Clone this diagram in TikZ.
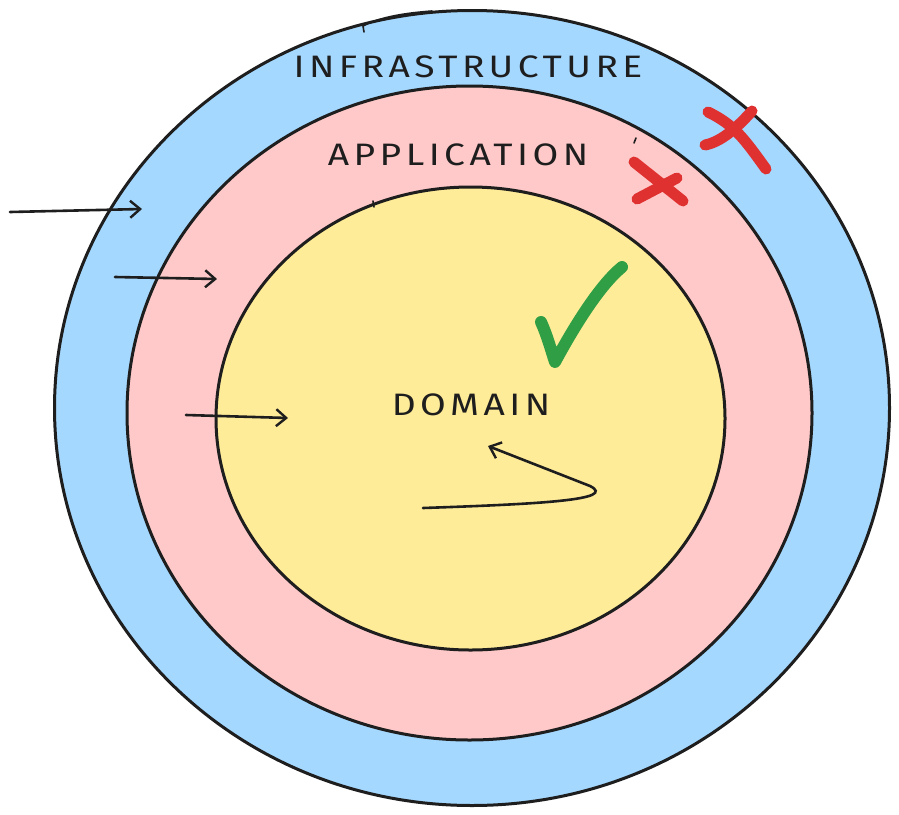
\documentclass[tikz,border=0pt]{standalone}
\usepackage{fontspec}
\setmainfont{Fira Sans}
\newfontfamily\handfont[LetterSpace=12]{Fira Sans}
\usetikzlibrary{arrows.meta}
\definecolor{ink}{HTML}{1E1E1E}
\definecolor{infra}{HTML}{A5D8FF}
\definecolor{appl}{HTML}{FFC9C9}
\definecolor{dom}{HTML}{FFEC99}
\definecolor{xred}{HTML}{E03131}
\definecolor{okgreen}{HTML}{2F9E44}
\tikzset{
  ring/.style={draw=ink, line width=3pt},
  lbl/.style={font=\handfont\fontsize{31}{32}\selectfont, text=ink, inner sep=0pt, xscale=1.2},
  flow/.style={draw=ink, line width=2.6pt, line cap=round, -{Straight Barb[length=10pt,width=17pt,line width=2.4pt]}},
  cross/.style={draw=xred, line width=11pt, line cap=round},
  tick/.style={draw=okgreen, line width=12pt, line cap=round, line join=round},
  sketch/.style={draw=ink, line width=1.6pt, line cap=round}
}
\begin{document}
\begin{tikzpicture}[x=1pt,y=-1pt]
\useasboundingbox (0,0) rectangle (899,814);
\fill[white] (0,0) rectangle (899,814);
% rings
\draw[ring, fill=infra] (472,408) ellipse [x radius=417.5pt, y radius=397.5pt];
\draw[ring, fill=appl] (469.5,413) ellipse [x radius=342.5pt, y radius=327pt];
\draw[ring, fill=dom] (470.5,418.5) ellipse [x radius=254.5pt, y radius=231.5pt];
% sketchy overlapping strokes
\draw[sketch] (364,32) -- (363,26) .. controls (380,17) and (405,13) .. (432,11);
\draw[sketch] (374,207) -- (373,201);
\draw[sketch] (634,143) -- (636,138);
% labels
\node[lbl] (infl) at (468,67) {INFRASTRUCTURE};
\node[lbl] (appl) at (458,155) {APPLICATION};
\node[lbl] (doml) at (471,405) {DOMAIN};
% arrows
\coordinate (a1s) at (10,212); \coordinate (a1e) at (142,209);
\coordinate (a2s) at (115,277); \coordinate (a2e) at (217,279);
\coordinate (a3s) at (186,415); \coordinate (a3e) at (288,418);
\draw[flow] (a1s) -- (a1e);
\draw[flow] (a2s) -- (a2e);
\draw[flow] (a3s) -- (a3e);
\coordinate (c1) at (423,508);
\coordinate (c2) at (590,486);
\coordinate (c3) at (488,446);
\draw[flow] (c1) .. controls (540,504) and (618,500) .. (c2) -- (c3);
% check mark
\coordinate (k1) at (541,322); \coordinate (k2) at (555,362); \coordinate (k3) at (622,267);
\draw[tick] (k1) .. controls (547,335) and (551,350) .. (k2) .. controls (575,325) and (600,285) .. (k3);
% crosses
\coordinate (x1a) at (708,112); \coordinate (x1b) at (766,169);
\coordinate (x1c) at (752,111); \coordinate (x1d) at (705,145);
\draw[cross] (x1a) .. controls (735,125) and (745,140) .. (x1b);
\draw[cross] (x1c) .. controls (735,130) and (720,142) .. (x1d);
\coordinate (x2a) at (634,162); \coordinate (x2b) at (683,201);
\coordinate (x2c) at (677,178); \coordinate (x2d) at (637,199);
\draw[cross] (x2a) -- (x2b);
\draw[cross] (x2c) -- (x2d);
\end{tikzpicture}
\end{document}
